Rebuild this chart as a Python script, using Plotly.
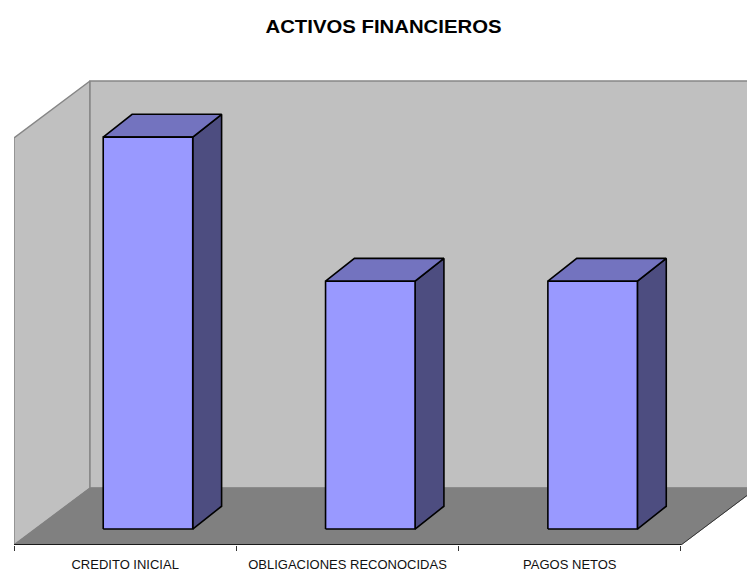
import plotly.graph_objects as go

# --- data ---
categories = ["CREDITO INICIAL", "OBLIGACIONES RECONOCIDAS", "PAGOS NETOS"]
values = [96.3, 60.9, 60.9]
title_text = "ACTIVOS FINANCIEROS"
axis_max = 100.0

# --- 3D projection settings (in axis units) ---
W, H = 747, 572
PX_X = 222.33     # px per category
PX_Y = 4.07       # px per value unit
DX = 76 / PX_X    # full depth, x shift
DY = 57 / PX_Y    # full depth, y shift
BAR_W = 89.5 / PX_X
D0X, D1X = 0.30, 0.68   # bar front / back depth fraction (x)
D0Y, D1Y = 0.28, 0.68   # bar front / back depth fraction (y)
X0, X1 = -0.5, 2.5
C_WALL, C_FLOOR, C_EDGE = "#C0C0C0", "#808080", "#868686"
C_FRONT, C_TOP, C_SIDE = "#9999FF", "#7373BF", "#4D4D80"
C_AXIS = "#1a1a1a"


def proj(x, v, dx, dy=None):
    return x + dx * DX, v + (dx if dy is None else dy) * DY


def poly(pts, fill, line, width):
    xs = [p[0] for p in pts] + [pts[0][0]]
    ys = [p[1] for p in pts] + [pts[0][1]]
    return go.Scatter(x=xs, y=ys, mode="lines", fill="toself", fillcolor=fill,
                      line=dict(color=line, width=width), hoverinfo="skip",
                      showlegend=False, cliponaxis=False)


fig = go.Figure()
# walls and floor
fig.add_trace(poly([proj(X0, 0, 0), proj(X0, axis_max, 0), proj(X0, axis_max, 1), proj(X0, 0, 1)],
                   C_WALL, C_EDGE, 1.5))
fig.add_trace(poly([proj(X0, 0, 1), proj(X0, axis_max, 1), proj(X1, axis_max, 1), proj(X1, 0, 1)],
                   C_WALL, C_EDGE, 1.5))
fig.add_trace(poly([proj(X0, 0, 0), proj(X1, 0, 0), proj(X1, 0, 1), proj(X0, 0, 1)],
                   C_FLOOR, C_FLOOR, 1))
# floor right edge
fig.add_trace(go.Scatter(x=[proj(X1, 0, 0)[0], proj(X1, 0, 1)[0]], y=[proj(X1, 0, 0)[1], proj(X1, 0, 1)[1]],
                         mode="lines", line=dict(color="#333333", width=1), hoverinfo="skip",
                         showlegend=False, cliponaxis=False))

# bars
for i, v in enumerate(values):
    l, r = i - BAR_W / 2, i + BAR_W / 2
    f0 = (D0X, D0Y)
    f1 = (D1X, D1Y)
    fig.add_trace(poly([proj(r, 0, *f0), proj(r, 0, *f1), proj(r, v, *f1), proj(r, v, *f0)], C_SIDE, "black", 1.6))
    fig.add_trace(poly([proj(l, v, *f0), proj(l, v, *f1), proj(r, v, *f1), proj(r, v, *f0)], C_TOP, "black", 1.6))
    fig.add_trace(poly([proj(l, 0, *f0), proj(r, 0, *f0), proj(r, v, *f0), proj(l, v, *f0)], C_FRONT, "black", 1.6))

# category axis line
fig.add_trace(go.Scatter(x=[X0, X1], y=[0, 0], mode="lines", line=dict(color=C_AXIS, width=2),
                         hoverinfo="skip", showlegend=False, cliponaxis=False))

top_px, bottom_px = 60, 545
fig.update_layout(
    width=W, height=H, autosize=False,
    margin=dict(l=14, r=0, t=top_px, b=H - bottom_px),
    paper_bgcolor="white", plot_bgcolor="white", showlegend=False,
    font=dict(family="Liberation Sans, Arial, sans-serif", color="black"),
    title=dict(text="<b>" + title_text + "</b>", x=383.5 / W, xanchor="center",
               y=1 - 27 / H, yanchor="middle", font=dict(size=18, color="black")),
    xaxis=dict(range=[X0, X0 + (W - 14) / PX_X], tickmode="array", tickvals=[0, 1, 2],
               ticktext=categories, ticks="", showgrid=False, zeroline=False, showline=False,
               tickfont=dict(size=13, color="#111111"), ticklabelstandoff=10,
               minor=dict(tickmode="array", tickvals=[-0.5, 0.5, 1.5, 2.5], ticks="outside",
                          ticklen=5, tickwidth=1, tickcolor="#333333", showgrid=False)),
    yaxis=dict(range=[0, (bottom_px - top_px) / PX_Y], visible=False, showgrid=False, zeroline=False),
)

fig.write_html(
    "out.html",
    config={"displayModeBar": False},
    post_script=(
        "document.body.style.margin='0';"
        "document.querySelectorAll('.gtitle').forEach(function(t){"
        "t.setAttribute('textLength','236');t.setAttribute('lengthAdjust','spacingAndGlyphs');});"
    ),
)
